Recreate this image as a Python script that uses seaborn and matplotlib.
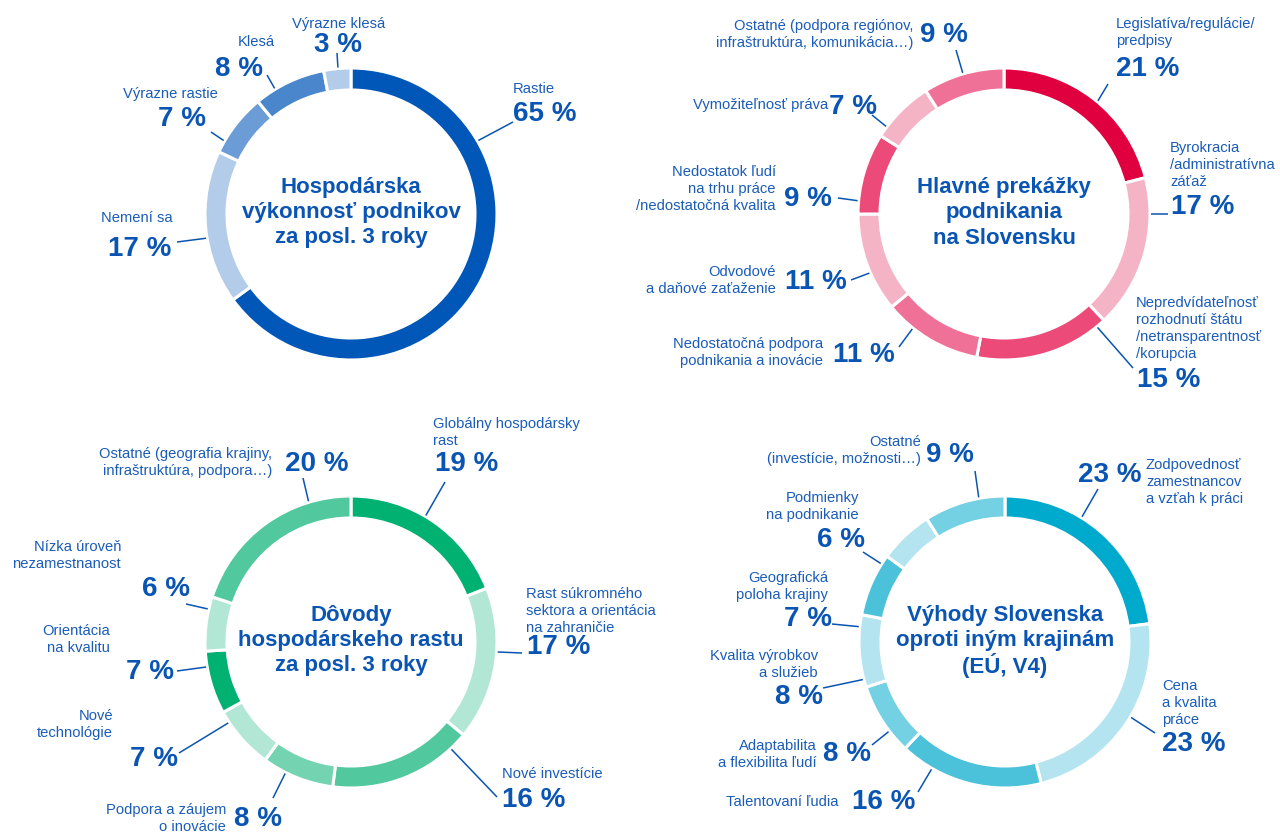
import numpy as np
import matplotlib
matplotlib.use("Agg")
import matplotlib.pyplot as plt
import seaborn as sns

# ---------------- data ----------------
perf_title = "Hospodárska\nvýkonnosť podnikov\nza posl. 3 roky"
perf_labels = ["Rastie", "Nemení sa", "Výrazne rastie", "Klesá", "Výrazne klesá"]
perf_values = [65, 17, 7, 8, 3]

obst_title = "Hlavné prekážky\npodnikania\nna Slovensku"
obst_labels = ["Legislatíva/regulácie/\npredpisy",
               "Byrokracia\n/administratívna\nzáťaž",
               "Nepredvídateľnosť\nrozhodnutí štátu\n/netransparentnosť\n/korupcia",
               "Nedostatočná podpora\npodnikania a inovácie",
               "Odvodové\na daňové zaťaženie",
               "Nedostatok ľudí\nna trhu práce\n/nedostatočná kvalita",
               "Vymožiteľnosť práva",
               "Ostatné (podpora regiónov,\ninfraštruktúra, komunikácia…)"]
obst_values = [21, 17, 15, 11, 11, 9, 7, 9]

grow_title = "Dôvody\nhospodárskeho rastu\nza posl. 3 roky"
grow_labels = ["Globálny hospodársky\nrast",
               "Rast súkromného\nsektora a orientácia\nna zahraničie",
               "Nové investície",
               "Podpora a záujem\no inovácie",
               "Nové\ntechnológie",
               "Orientácia\nna kvalitu",
               "Nízka úroveň\nnezamestnanost",
               "Ostatné (geografia krajiny,\ninfraštruktúra, podpora…)"]
grow_values = [19, 17, 16, 8, 7, 7, 6, 20]

adv_title = "Výhody Slovenska\noproti iným krajinám\n(EÚ, V4)"
adv_labels = ["Zodpovednosť\nzamestnancov\na vzťah k práci",
              "Cena\na kvalita\npráce",
              "Talentovaní ľudia",
              "Adaptabilita\na flexibilita ľudí",
              "Kvalita výrobkov\na služieb",
              "Geografická\npoloha krajiny",
              "Podmienky\nna podnikanie",
              "Ostatné\n(investície, možnosti…)"]
adv_values = [23, 23, 16, 8, 8, 7, 6, 9]

# ---------------- styles ----------------
perf_colors = ["#0057B7", "#B3CCE9", "#6B9CD6", "#4A86CC", "#B3CCE9"]
obst_colors = ["#E1003F", "#F5B3C6", "#EC4A79", "#EF7197", "#F5B3C6", "#EC4A79", "#F5B3C6", "#EF7197"]
grow_colors = ["#00B172", "#B2E7D5", "#52C89E", "#74D4B2", "#B2E7D5", "#00B172", "#B2E7D5", "#52C89E"]
adv_colors = ["#00AACD", "#B3E4EF", "#4CC2DA", "#74D0E3", "#B3E4EF", "#4CC2DA", "#B3E4EF", "#74D0E3"]

TXT = "#1A5CB8"
PCT = "#0A55B3"
W, H = 1280, 832

# layout per label: (cat_x, cat_base_y, cat_ha, pct_x, pct_base_y, pct_ha, leader_angle, end_x, end_y)
perf_layout = [
    (513, 93, "left", 513, 121, "left", 60, 513, 122),
    (173, 222, "right", 171, 256, "right", 260.5, 177, 242),
    (170, 98, "center", 206, 126, "right", 300, 211, 132),
    (256, 46, "center", 263, 76, "right", 328.7, 267, 75),
    (339, 28, "center", 338, 52, "center", 354.9, 337, 53),
]
obst_layout = [
    (1116, 28, "left", 1116, 76, "left", 39.7, 1108, 84),
    (1170, 152, "left", 1171, 214, "left", 90, 1168, 214),
    (1136, 307, "left", 1137, 387, "left", 140.5, 1133, 368),
    (823, 348, "right", 833, 362, "left", 218.6, 899, 347),
    (776, 276, "right", 785, 289, "left", 246.3, 851, 280),
    (776, 176, "right", 784, 206, "left", 275.2, 838, 198),
    (828, 109, "right", 829, 114, "left", 306.6, 872, 115),
    (913, 30, "right", 920, 42, "left", 343.7, 956, 50),
]
grow_layout = [
    (433, 428, "left", 435, 471, "left", 30.6, 445, 482),
    (526, 598, "left", 527, 654, "left", 93.9, 522, 653),
    (502, 778, "left", 502, 807, "left", 136.9, 497, 797),
    (226, 814, "right", 234, 826, "left", 206.6, 273, 798),
    (113, 720, "right", 178, 766, "right", 236.6, 179, 753),
    (110, 635, "right", 174, 679, "right", 260.2, 177, 671),
    (121, 551, "right", 190, 596, "right", 283, 186, 604),
    (272, 458, "right", 285, 471, "left", 343.2, 303, 478),
]
adv_layout = [
    (1146, 469, "left", 1142, 482, "right", 31.6, 1098, 489),
    (1162, 690, "left", 1162, 751, "left", 120.9, 1155, 733),
    (838, 806, "right", 852, 809, "left", 210, 918, 792),
    (817, 750, "right", 823, 761, "left", 232.4, 872, 745),
    (818, 660, "right", 823, 704, "right", 255.2, 823, 688),
    (828, 582, "right", 832, 626, "right", 276, 832, 624),
    (859, 502, "right", 865, 547, "right", 302.3, 863, 552),
    (921, 446, "right", 926, 462, "left", 349.7, 975, 471),
]

charts = [
    (perf_title, perf_labels, perf_values, perf_colors, perf_layout, (351, 214)),
    (obst_title, obst_labels, obst_values, obst_colors, obst_layout, (1004, 214)),
    (grow_title, grow_labels, grow_values, grow_colors, grow_layout, (351, 642)),
    (adv_title, adv_labels, adv_values, adv_colors, adv_layout, (1005, 642)),
]

sns.set_theme(style="white")
plt.rcParams["font.family"] = ["Liberation Sans", "DejaVu Sans"]

fig = plt.figure(figsize=(12.8, 8.32), dpi=100)
ax = fig.add_axes([0, 0, 1, 1])

R_OUT = 146
RING = 22
CAT_FS = 10.6
PCT_FS = 20
TITLE_FS = 16


def put_lines(x, base_y, text, ha, fs, weight, color, step):
    for i, line in enumerate(text.split("\n")):
        ax.text(x, H - (base_y + i * step), line, ha=ha, va="baseline",
                fontsize=fs, fontweight=weight, color=color)


for title, labels, values, colors, layout, (cx, cy) in charts:
    ax.pie(values, colors=colors, startangle=90, counterclock=False,
           radius=R_OUT, center=(cx, H - cy), frame=True,
           wedgeprops=dict(width=RING, edgecolor="white", linewidth=2.2))
    # title in the middle
    tl = title.split("\n")
    for i, line in enumerate(tl):
        yy = cy - 4 + (i - (len(tl) - 1) / 2) * 25.5
        ax.text(cx, H - yy, line, ha="center", va="center_baseline",
                fontsize=TITLE_FS, fontweight="bold", color=PCT)
    for lab, val, lay in zip(labels, values, layout):
        cxl, cyl, cha, pxl, pyl, pha, ang, ex, ey = lay
        put_lines(cxl, cyl, lab, cha, CAT_FS, "normal", TXT, 17)
        put_lines(pxl, pyl, f"{val} %", pha, PCT_FS, "bold", PCT, 26)
        a = np.deg2rad(ang)
        sx = cx + (R_OUT + 1) * np.sin(a)
        sy = cy - (R_OUT + 1) * np.cos(a)
        ax.plot([sx, ex], [H - sy, H - ey], color=PCT, lw=1.1, solid_capstyle="butt")

ax.set_xlim(0, W)
ax.set_ylim(0, H)
ax.set_aspect("equal")
ax.axis("off")
fig.savefig("out.png", dpi=100, facecolor="white")
